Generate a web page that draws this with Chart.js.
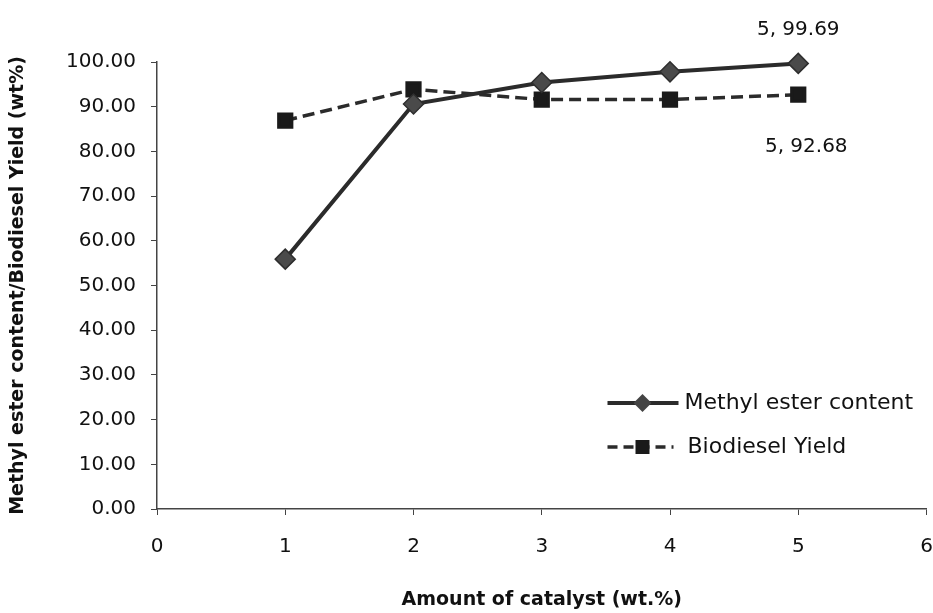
<!DOCTYPE html>
<html>
<head>
<meta charset="utf-8">
<script src="https://cdn.jsdelivr.net/npm/chart.js@4/dist/chart.umd.min.js"></script>
<style>
  html, body { margin: 0; padding: 0; background: #fff; overflow: hidden; }
  #wrap { width: 933px; height: 613px; overflow: hidden; }
</style>
</head>
<body>
<div id="wrap"><canvas id="chart" width="939" height="613"></canvas></div>
<script>
// Methyl ester content and biodiesel yield vs. catalyst amount
const catalyst = [1, 2, 3, 4, 5];
const methylEster = [55.9, 90.6, 95.4, 97.8, 99.69];
const biodieselYield = [86.9, 93.9, 91.6, 91.6, 92.68];
const seriesNames = ['Methyl ester content', 'Biodiesel Yield'];
const endLabels = ['5, 99.69', '5, 92.68'];

const FONT = '"DejaVu Sans", sans-serif';
const INK = '#2b2b2b';

// Annotates the last point of each series, Excel-style
const endLabelPlugin = {
    id: 'endLabels',
    afterDatasetsDraw(chart) {
        const { ctx, scales: { x, y } } = chart;
        ctx.save();
        ctx.font = `20px ${FONT}`;
        ctx.fillStyle = '#111';
        ctx.textAlign = 'center';
        ctx.textBaseline = 'middle';
        const px = x.getPixelForValue(5);
        ctx.fillText(endLabels[0], px, y.getPixelForValue(methylEster[4]) - 34);
        ctx.fillText(endLabels[1], px + 8, y.getPixelForValue(biodieselYield[4]) + 52);
        ctx.restore();
    },
};

// Legend drawn inside the plot, lower right
const insideLegend = {
    id: 'insideLegend',
    afterDraw(chart) {
        const { ctx, chartArea } = chart;
        const x0 = chartArea.right - 319;
        const rows = [
            { y: chartArea.bottom - 106, dash: [], width: 4, marker: 'diamond', x1: x0 + 71, tx: x0 + 77 },
            { y: chartArea.bottom - 62, dash: [10, 6], width: 3.5, marker: 'square', x1: x0 + 66, tx: x0 + 80 },
        ];
        ctx.save();
        rows.forEach((r, i) => {
            ctx.strokeStyle = INK;
            ctx.lineWidth = r.width;
            ctx.setLineDash(r.dash);
            ctx.beginPath();
            ctx.moveTo(x0, r.y);
            ctx.lineTo(r.x1, r.y);
            ctx.stroke();
            ctx.setLineDash([]);
            const cx = x0 + 35;
            ctx.beginPath();
            if (r.marker === 'diamond') {
                ctx.fillStyle = '#444';
                ctx.moveTo(cx, r.y - 9); ctx.lineTo(cx + 9, r.y);
                ctx.lineTo(cx, r.y + 9); ctx.lineTo(cx - 9, r.y);
                ctx.closePath();
            } else {
                ctx.fillStyle = '#1a1a1a';
                ctx.rect(cx - 7, r.y - 7, 14, 14);
            }
            ctx.fill();
            ctx.font = `22px ${FONT}`;
            ctx.fillStyle = '#111';
            ctx.textAlign = 'left';
            ctx.textBaseline = 'middle';
            ctx.fillText(seriesNames[i], r.tx, r.y);
        });
        ctx.restore();
    },
};

new Chart(document.getElementById('chart'), {
    type: 'line',
    data: {
        datasets: [
            {
                label: seriesNames[0],
                data: catalyst.map((c, i) => ({ x: c, y: methylEster[i] })),
                borderColor: INK,
                backgroundColor: '#4a4a4a',
                borderWidth: 4,
                pointStyle: 'rectRot',
                pointRadius: 10,
                pointBorderColor: '#2e2e2e',
                pointBorderWidth: 1.5,
                tension: 0,
                clip: false,
            },
            {
                label: seriesNames[1],
                data: catalyst.map((c, i) => ({ x: c, y: biodieselYield[i] })),
                borderColor: INK,
                backgroundColor: '#1a1a1a',
                borderWidth: 3.5,
                borderDash: [12, 6],
                pointStyle: 'rect',
                pointRadius: 9,
                pointBorderColor: '#1a1a1a',
                tension: 0,
                clip: false,
            },
        ],
    },
    options: {
        responsive: false,
        animation: false,
        layout: { padding: { top: 62, right: 0, bottom: 0, left: 0 } },
        plugins: { legend: { display: false }, tooltip: { enabled: false } },
        scales: {
            x: {
                type: 'linear', min: 0, max: 6,
                // fixed band height; tick padding would otherwise push the right edge in
                afterFit: s => { s.height = 104; s.paddingRight = 1; },
                ticks: { stepSize: 1, color: '#111', font: { family: FONT, size: 20 }, padding: 20 },
                grid: { drawOnChartArea: false, color: '#444', tickLength: 6 },
                border: { color: '#444', width: 1.5 },
                title: {
                    display: true, text: 'Amount of catalyst (wt.%)', color: '#111',
                    font: { family: FONT, size: 19, weight: 'bold' }, padding: { top: 0, bottom: 2 },
                },
            },
            y: {
                min: 0, max: 100,
                afterFit: s => { s.width = 157; },
                ticks: {
                    stepSize: 10, color: '#111', font: { family: FONT, size: 20 }, padding: 15,
                    callback: v => v.toFixed(2),
                },
                grid: { drawOnChartArea: false, color: '#444', tickLength: 6 },
                border: { color: '#444', width: 1.5 },
                title: {
                    display: true, text: 'Methyl ester content/Biodiesel Yield (wt%)', color: '#111',
                    font: { family: FONT, size: 19, weight: 'bold' }, padding: { top: 7, bottom: 0 },
                },
            },
        },
    },
    plugins: [endLabelPlugin, insideLegend],
});
</script>
</body>
</html>
